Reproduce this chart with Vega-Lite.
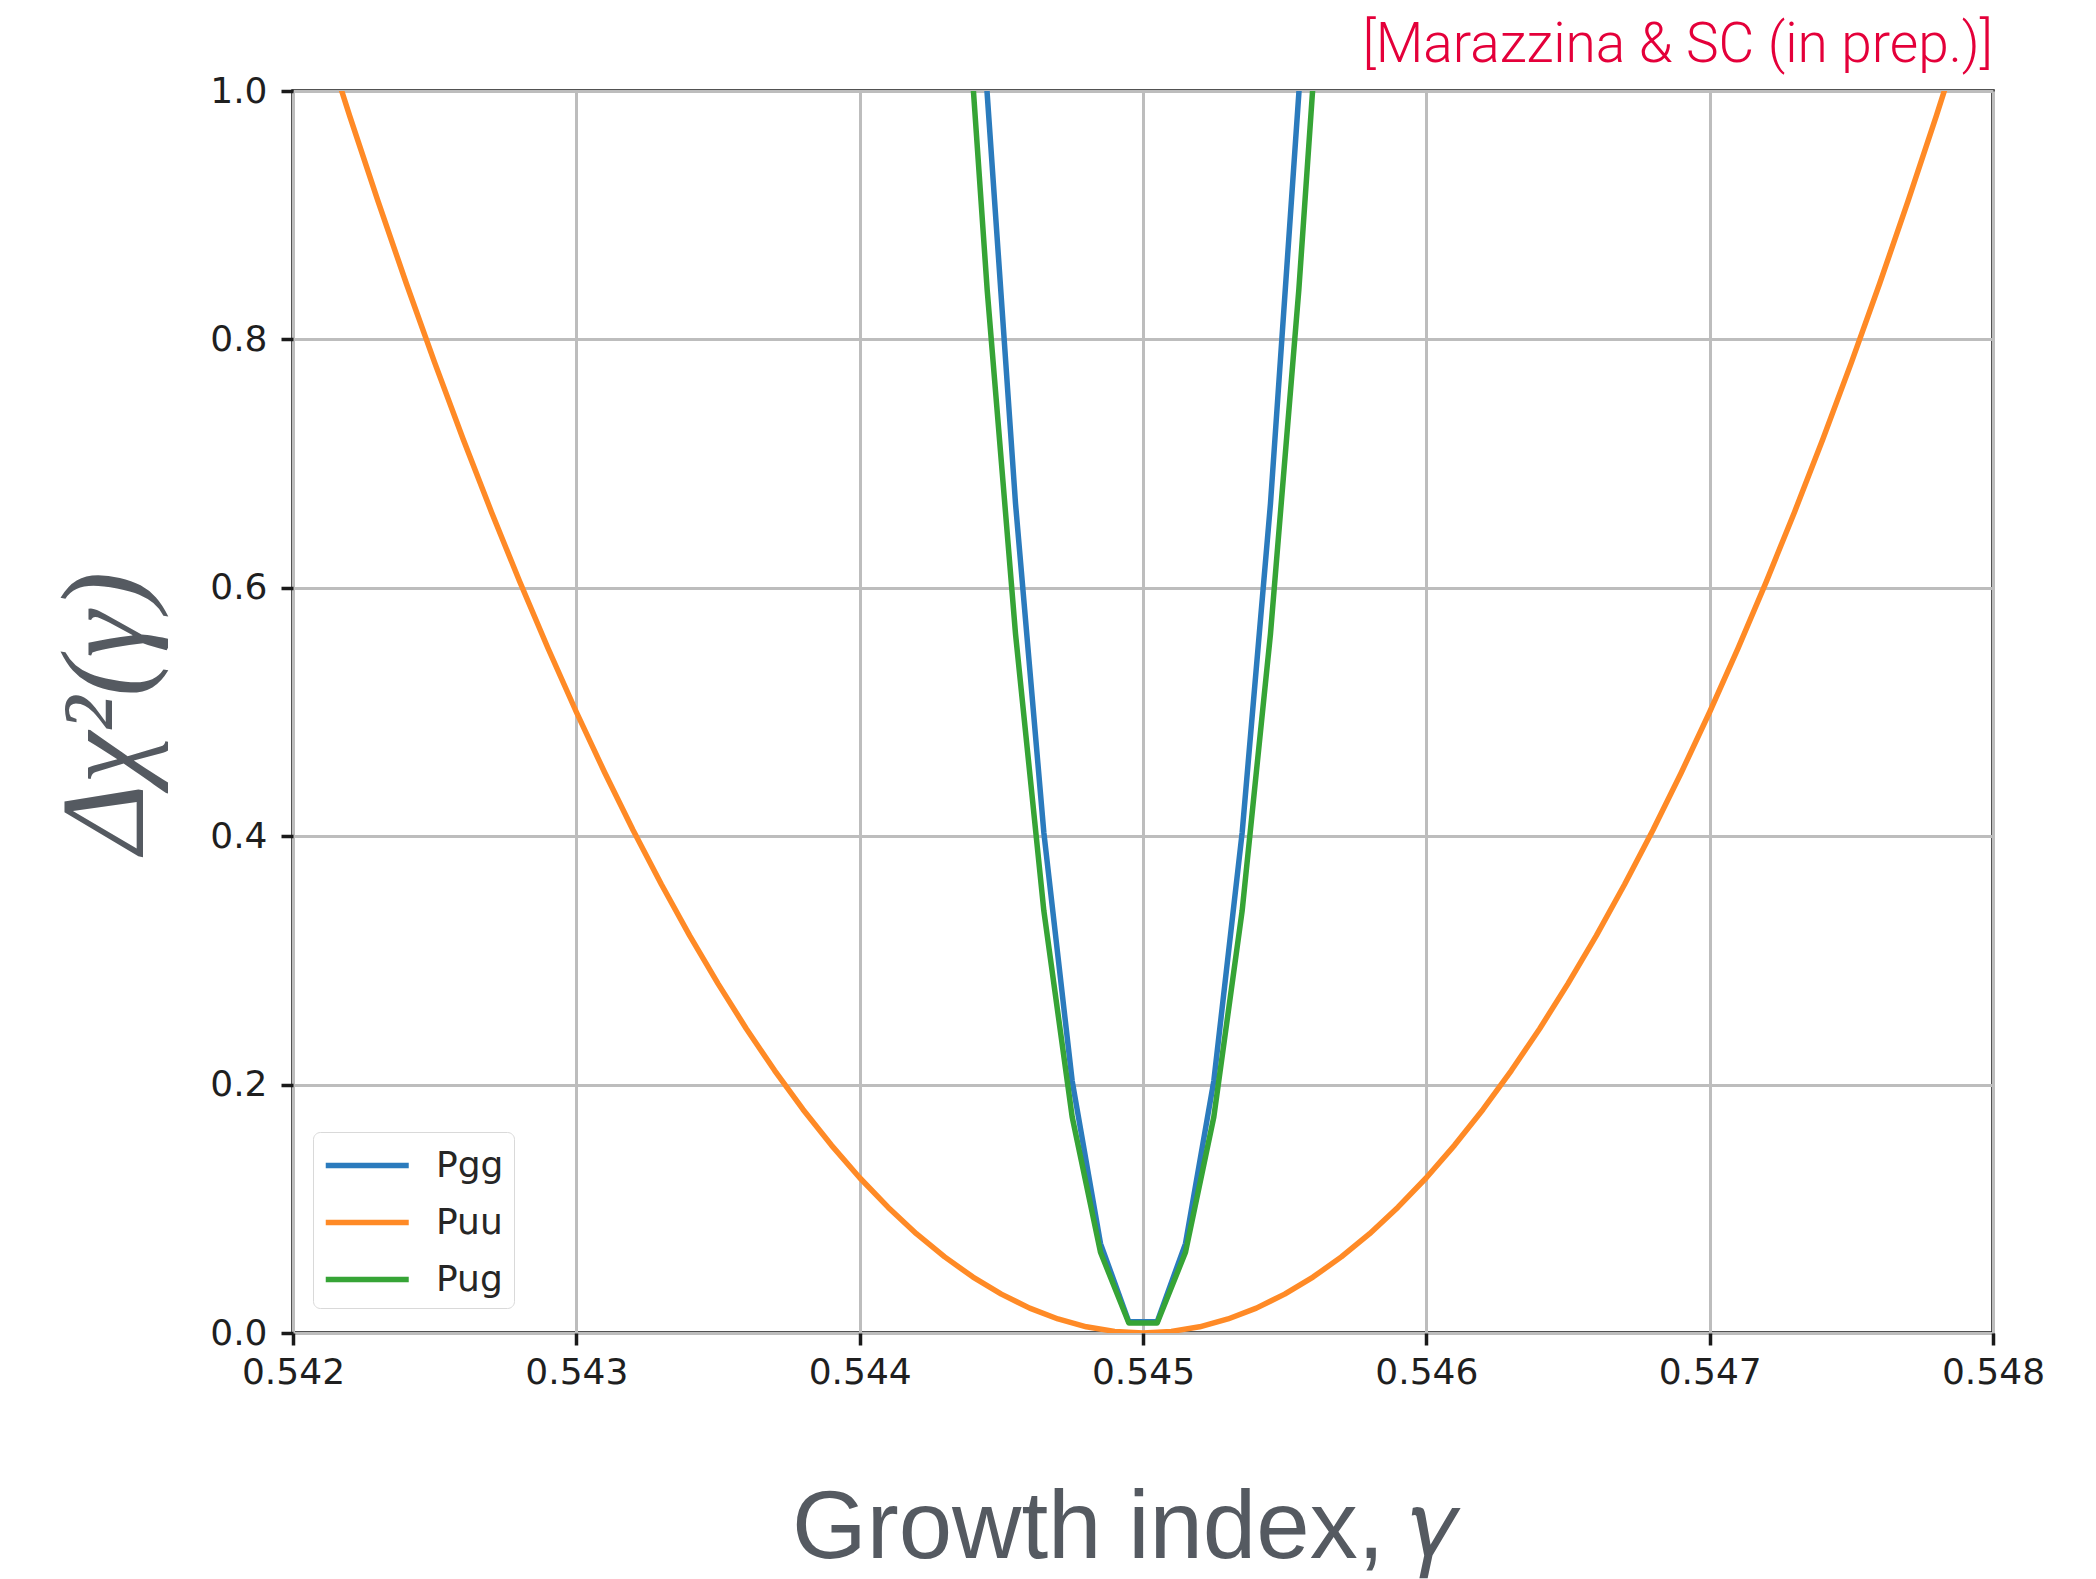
{
  "$schema": "https://vega.github.io/schema/vega-lite/v6.json",
  "width": 1700,
  "height": 1242,
  "autosize": {"type": "none"},
  "padding": {"left": 293, "top": 91, "right": 103, "bottom": 246},
  "background": "white",
  "title": {
    "text": "[Marazzina & SC (in prep.)]",
    "anchor": "end",
    "frame": "group",
    "orient": "top",
    "font": "Roboto",
    "fontWeight": 300,
    "fontSize": 55,
    "color": "#E4003A",
    "baseline": "alphabetic",
    "offset": 30,
    "dy": 74
  },
  "data": {
    "values": [
      {"series": "Pgg", "gamma": 0.54435, "chi2": 1.39},
      {"series": "Pgg", "gamma": 0.54445, "chi2": 0.998},
      {"series": "Pgg", "gamma": 0.54455, "chi2": 0.668},
      {"series": "Pgg", "gamma": 0.54465, "chi2": 0.403},
      {"series": "Pgg", "gamma": 0.54475, "chi2": 0.203},
      {"series": "Pgg", "gamma": 0.54485, "chi2": 0.072},
      {"series": "Pgg", "gamma": 0.54495, "chi2": 0.009},
      {"series": "Pgg", "gamma": 0.54505, "chi2": 0.009},
      {"series": "Pgg", "gamma": 0.54515, "chi2": 0.072},
      {"series": "Pgg", "gamma": 0.54525, "chi2": 0.203},
      {"series": "Pgg", "gamma": 0.54535, "chi2": 0.403},
      {"series": "Pgg", "gamma": 0.54545, "chi2": 0.668},
      {"series": "Pgg", "gamma": 0.54555, "chi2": 0.998},
      {"series": "Pgg", "gamma": 0.54565, "chi2": 1.39},

      {"series": "Puu", "gamma": 0.5420, "chi2": 1.125},
      {"series": "Puu", "gamma": 0.5421, "chi2": 1.0513},
      {"series": "Puu", "gamma": 0.5422, "chi2": 0.98},
      {"series": "Puu", "gamma": 0.5423, "chi2": 0.9113},
      {"series": "Puu", "gamma": 0.5424, "chi2": 0.845},
      {"series": "Puu", "gamma": 0.5425, "chi2": 0.7813},
      {"series": "Puu", "gamma": 0.5426, "chi2": 0.72},
      {"series": "Puu", "gamma": 0.5427, "chi2": 0.6613},
      {"series": "Puu", "gamma": 0.5428, "chi2": 0.605},
      {"series": "Puu", "gamma": 0.5429, "chi2": 0.5513},
      {"series": "Puu", "gamma": 0.5430, "chi2": 0.5},
      {"series": "Puu", "gamma": 0.5431, "chi2": 0.4513},
      {"series": "Puu", "gamma": 0.5432, "chi2": 0.405},
      {"series": "Puu", "gamma": 0.5433, "chi2": 0.3613},
      {"series": "Puu", "gamma": 0.5434, "chi2": 0.32},
      {"series": "Puu", "gamma": 0.5435, "chi2": 0.2813},
      {"series": "Puu", "gamma": 0.5436, "chi2": 0.245},
      {"series": "Puu", "gamma": 0.5437, "chi2": 0.2113},
      {"series": "Puu", "gamma": 0.5438, "chi2": 0.18},
      {"series": "Puu", "gamma": 0.5439, "chi2": 0.1513},
      {"series": "Puu", "gamma": 0.5440, "chi2": 0.125},
      {"series": "Puu", "gamma": 0.5441, "chi2": 0.1013},
      {"series": "Puu", "gamma": 0.5442, "chi2": 0.08},
      {"series": "Puu", "gamma": 0.5443, "chi2": 0.0613},
      {"series": "Puu", "gamma": 0.5444, "chi2": 0.045},
      {"series": "Puu", "gamma": 0.5445, "chi2": 0.0313},
      {"series": "Puu", "gamma": 0.5446, "chi2": 0.02},
      {"series": "Puu", "gamma": 0.5447, "chi2": 0.0113},
      {"series": "Puu", "gamma": 0.5448, "chi2": 0.005},
      {"series": "Puu", "gamma": 0.5449, "chi2": 0.0013},
      {"series": "Puu", "gamma": 0.5450, "chi2": 0.0},
      {"series": "Puu", "gamma": 0.5451, "chi2": 0.0013},
      {"series": "Puu", "gamma": 0.5452, "chi2": 0.005},
      {"series": "Puu", "gamma": 0.5453, "chi2": 0.0113},
      {"series": "Puu", "gamma": 0.5454, "chi2": 0.02},
      {"series": "Puu", "gamma": 0.5455, "chi2": 0.0313},
      {"series": "Puu", "gamma": 0.5456, "chi2": 0.045},
      {"series": "Puu", "gamma": 0.5457, "chi2": 0.0613},
      {"series": "Puu", "gamma": 0.5458, "chi2": 0.08},
      {"series": "Puu", "gamma": 0.5459, "chi2": 0.1013},
      {"series": "Puu", "gamma": 0.5460, "chi2": 0.125},
      {"series": "Puu", "gamma": 0.5461, "chi2": 0.1513},
      {"series": "Puu", "gamma": 0.5462, "chi2": 0.18},
      {"series": "Puu", "gamma": 0.5463, "chi2": 0.2113},
      {"series": "Puu", "gamma": 0.5464, "chi2": 0.245},
      {"series": "Puu", "gamma": 0.5465, "chi2": 0.2813},
      {"series": "Puu", "gamma": 0.5466, "chi2": 0.32},
      {"series": "Puu", "gamma": 0.5467, "chi2": 0.3613},
      {"series": "Puu", "gamma": 0.5468, "chi2": 0.405},
      {"series": "Puu", "gamma": 0.5469, "chi2": 0.4513},
      {"series": "Puu", "gamma": 0.5470, "chi2": 0.5},
      {"series": "Puu", "gamma": 0.5471, "chi2": 0.5513},
      {"series": "Puu", "gamma": 0.5472, "chi2": 0.605},
      {"series": "Puu", "gamma": 0.5473, "chi2": 0.6613},
      {"series": "Puu", "gamma": 0.5474, "chi2": 0.72},
      {"series": "Puu", "gamma": 0.5475, "chi2": 0.7813},
      {"series": "Puu", "gamma": 0.5476, "chi2": 0.845},
      {"series": "Puu", "gamma": 0.5477, "chi2": 0.9113},
      {"series": "Puu", "gamma": 0.5478, "chi2": 0.98},
      {"series": "Puu", "gamma": 0.5479, "chi2": 1.0513},
      {"series": "Puu", "gamma": 0.5480, "chi2": 1.125},

      {"series": "Pug", "gamma": 0.54435, "chi2": 1.17},
      {"series": "Pug", "gamma": 0.54445, "chi2": 0.84},
      {"series": "Pug", "gamma": 0.54455, "chi2": 0.563},
      {"series": "Pug", "gamma": 0.54465, "chi2": 0.34},
      {"series": "Pug", "gamma": 0.54475, "chi2": 0.174},
      {"series": "Pug", "gamma": 0.54485, "chi2": 0.065},
      {"series": "Pug", "gamma": 0.54495, "chi2": 0.008},
      {"series": "Pug", "gamma": 0.54505, "chi2": 0.008},
      {"series": "Pug", "gamma": 0.54515, "chi2": 0.065},
      {"series": "Pug", "gamma": 0.54525, "chi2": 0.174},
      {"series": "Pug", "gamma": 0.54535, "chi2": 0.34},
      {"series": "Pug", "gamma": 0.54545, "chi2": 0.563},
      {"series": "Pug", "gamma": 0.54555, "chi2": 0.84},
      {"series": "Pug", "gamma": 0.54565, "chi2": 1.17}
    ]
  },
  "mark": {"type": "line", "strokeWidth": 5.5, "strokeJoin": "round", "clip": true},
  "encoding": {
    "x": {
      "field": "gamma",
      "type": "quantitative",
      "scale": {"domain": [0.542, 0.548], "nice": false, "zero": false},
      "axis": {
        "values": [0.542, 0.543, 0.544, 0.545, 0.546, 0.547, 0.548],
        "format": ".3f",
        "labelPadding": 10,
        "title": "Growth index, 𝛾",
        "titleFont": "Liberation Sans, DejaVu Serif",
        "titleFontSize": 96,
        "titleFontWeight": "normal",
        "titleColor": "#555a61",
        "titleBaseline": "alphabetic",
        "titleAlign": "center",
        "titleX": 833,
        "titleY": 224
      }
    },
    "y": {
      "field": "chi2",
      "type": "quantitative",
      "scale": {"domain": [0, 1], "nice": false, "zero": false},
      "axis": {
        "values": [0, 0.2, 0.4, 0.6, 0.8, 1.0],
        "format": ".1f",
        "labelPadding": 14,
        "title": "Δχ²(γ)",
        "titleFont": "Liberation Serif",
        "titleFontStyle": "italic",
        "titleFontSize": 118,
        "titleFontWeight": "normal",
        "titleColor": "#555a61",
        "titleBaseline": "alphabetic",
        "titleAlign": "center",
        "titleAngle": 270,
        "titleX": -151,
        "titleY": 621
      }
    },
    "color": {
      "field": "series",
      "type": "nominal",
      "scale": {
        "domain": ["Pgg", "Puu", "Pug"],
        "range": ["#2b7bbd", "#ff8a26", "#36a436"]
      },
      "legend": {
        "title": null,
        "orient": "none",
        "legendX": 20,
        "legendY": 1041,
        "padding": 10,
        "fillColor": "white",
        "strokeColor": "#d9d9d9",
        "cornerRadius": 7,
        "symbolType": "M-1,0H3",
        "symbolSize": 1722,
        "symbolStrokeWidth": 5.5,
        "labelFont": "DejaVu Sans",
        "labelFontSize": 36,
        "labelColor": "#262626",
        "labelOffset": 66,
        "rowPadding": 15
      }
    }
  },
  "config": {
    "view": {"stroke": "#1a1a1a", "strokeWidth": 3.5},
    "axis": {
      "domain": false,
      "grid": true,
      "gridColor": "#bdbdbd",
      "gridWidth": 3,
      "ticks": true,
      "tickColor": "#1a1a1a",
      "tickWidth": 3.5,
      "tickSize": 12,
      "labelFlush": false,
      "labelFont": "DejaVu Sans",
      "labelFontSize": 36,
      "labelColor": "#1f1f1f"
    }
  }
}
